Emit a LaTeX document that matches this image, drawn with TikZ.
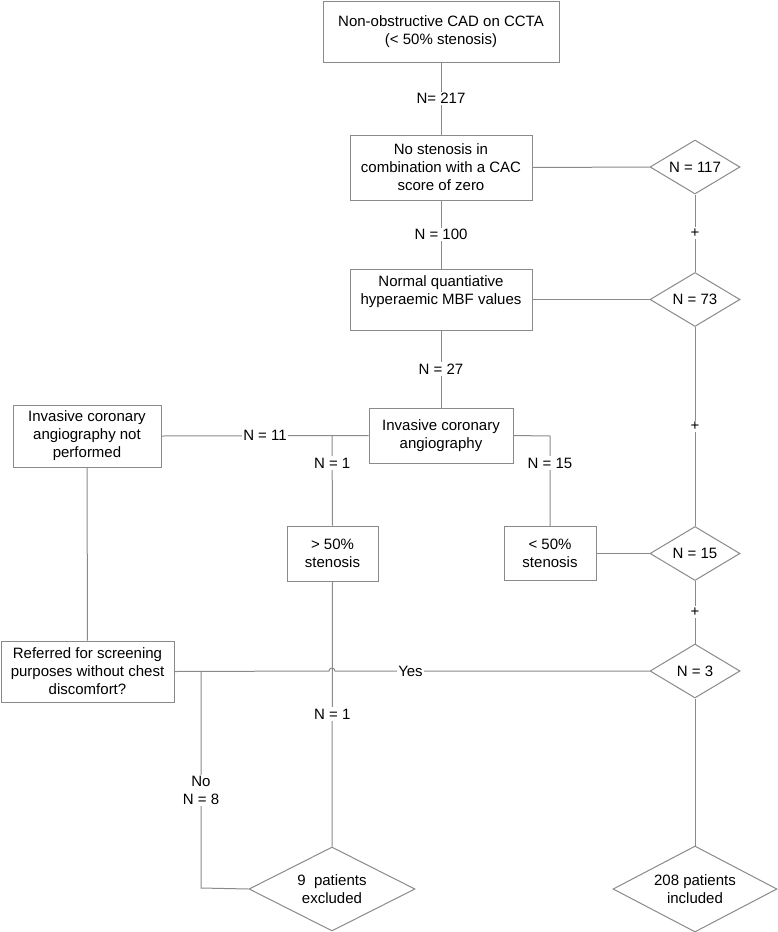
\documentclass[tikz,border=0pt]{standalone}
\usepackage{fontspec}
\setmainfont{Liberation Sans}
\usetikzlibrary{shapes.geometric}
\definecolor{linegray}{HTML}{8A8A8A}
\begin{document}
\begin{tikzpicture}[x=1pt,y=-1pt,
  every node/.style={font=\fontsize{15}{18}\selectfont},
  box/.style={draw=linegray, line width=1pt, align=center, inner sep=0pt, fill=white},
  dia/.style={draw=linegray, line width=1pt, diamond, align=center, inner sep=0pt, fill=white, shape aspect=1.7},
  conn/.style={draw=linegray, line width=1pt},
  lbl/.style={fill=white, inner sep=1.5pt, align=center}]
\useasboundingbox (0,0) rectangle (777,932);
% boxes
\node[box, minimum width=236, minimum height=61] (b1) at (441,31.5) {Non-obstructive CAD on CCTA\\(< 50\% stenosis)};
\node[box, minimum width=182, minimum height=65] (b2) at (441,167.5) {No stenosis in\\combination with a CAC\\score of zero};
\node[box, minimum width=182, minimum height=61] (b3) at (441,299.5) {Normal quantiative\\hyperaemic MBF values\\\phantom{X}};
\node[box, minimum width=144, minimum height=55] (b4) at (441,435.5) {Invasive coronary\\angiography};
\node[box, minimum width=148, minimum height=62] (np) at (87,436) {Invasive coronary\\angiography not\\performed};
\node[box, minimum width=91, minimum height=55] (gt) at (332.5,553.5) {> 50\%\\stenosis};
\node[box, minimum width=92, minimum height=54] (lt) at (550,553.5) {< 50\%\\stenosis};
\node[box, minimum width=173, minimum height=61] (ref) at (87.5,671.5) {Referred for screening\\purposes without chest\\discomfort?};
% diamonds
\node[dia, minimum width=90, minimum height=54] (d117) at (695,167) {N = 117};
\node[dia, minimum width=90, minimum height=54] (d73) at (695,299.5) {N = 73};
\node[dia, minimum width=90, minimum height=54] (d15) at (695,553.5) {N = 15};
\node[dia, minimum width=90, minimum height=54] (d3) at (695,671) {N = 3};
\node[dia, minimum width=166, minimum height=84] (ex) at (332,889) {9~~patients\\excluded};
\node[dia, minimum width=164, minimum height=86] (inc) at (695,889) {208 patients\\included};
% helper coordinates
\coordinate (brL) at (332,436);
\coordinate (brR) at (550,436);
\coordinate (brN) at (201,671);
\coordinate (brNb) at (201,888);
\coordinate (hopL) at (329,671);
\coordinate (hopR) at (335,671);
% main column
\draw[conn] (b1.south) -- node[lbl]{N= 217} (b2.north);
\draw[conn] (b2.south) -- node[lbl]{N = 100} (b3.north);
\draw[conn] (b3.south) -- node[lbl]{N = 27} (b4.north);
% right column
\draw[conn] (b2.east) -- (d117.west);
\draw[conn] (b3.east) -- (d73.west);
\draw[conn] (d117.south) -- node[lbl]{+} (d73.north);
\draw[conn] (d73.south) -- node[lbl]{+} (d15.north);
\draw[conn] (d15.south) -- node[lbl]{+} (d3.north);
\draw[conn] (lt.east) -- (d15.west);
\draw[conn] (d3.south) -- (inc.north);
% angiography branches
\draw[conn] (b4.west) -- node[lbl]{N = 11} (np.east);
\draw[conn] (brL) -- node[lbl, pos=0.3]{N = 1} (gt.north);
\draw[conn] (b4.east) -- (brR) -- node[lbl, pos=0.3]{N = 15} (lt.north);
% lower left
\draw[conn] (np.south) -- (ref.north);
\draw[conn] (ref.east) -- (hopL) arc (180:360:3) -- node[lbl, pos=0.24]{Yes} (d3.west);
\draw[conn] (brN) -- node[lbl, pos=0.55]{No\\N = 8} (brNb) -- (ex.west);
\draw[conn] (gt.south) -- node[lbl]{N = 1} (ex.north);
\end{tikzpicture}
\end{document}
